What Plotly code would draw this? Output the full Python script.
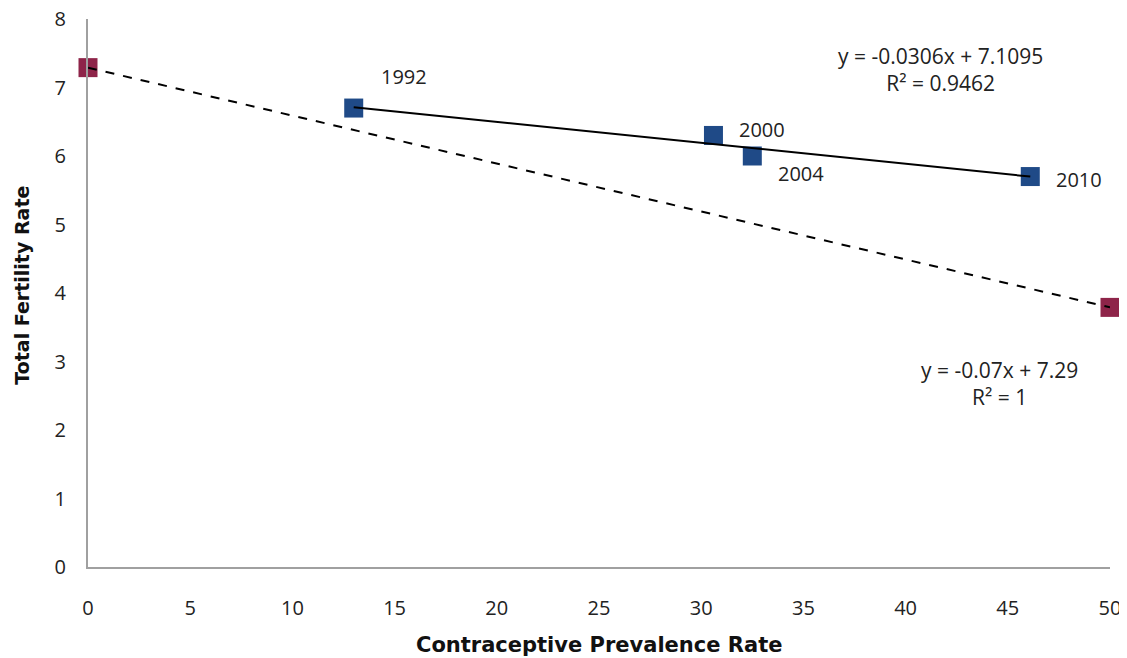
import numpy as np
import plotly.graph_objects as go

# Survey points (blue)
years = ["1992", "2000", "2004", "2010"]
cpr = [13.0, 30.6, 32.5, 46.1]
tfr = [6.70, 6.30, 6.00, 5.70]

# Reference endpoints (red)
ref_x = [0, 50]
ref_y = [7.29, 3.79]

eq_blue = "y = -0.0306x + 7.1095<br>R² = 0.9462"
eq_red = "y = -0.07x + 7.29<br>R² = 1"

label_shift = {"1992": (50, 32), "2000": (49, 6), "2004": (49, -17), "2010": (49, -3)}

BLUE = "#1F4A87"
RED = "#8E2449"
FONT = "Open Sans"
TITLE_FONT = "DejaVu Sans"

fig = go.Figure()

fig.add_trace(go.Scatter(x=cpr, y=tfr, mode="markers",
                         marker=dict(symbol="square", size=19, color=BLUE),
                         cliponaxis=False, showlegend=False))
fig.add_trace(go.Scatter(x=ref_x, y=ref_y, mode="markers",
                         marker=dict(symbol="square", size=19, color=RED),
                         cliponaxis=False, showlegend=False))

# trendlines
m1, b1 = np.polyfit(cpr, tfr, 1)
tx = [min(cpr), max(cpr)]
fig.add_trace(go.Scatter(x=tx, y=[m1 * v + b1 for v in tx], mode="lines",
                         line=dict(color="black", width=2),
                         cliponaxis=False, showlegend=False))
m2, b2 = np.polyfit(ref_x, ref_y, 1)
fig.add_trace(go.Scatter(x=ref_x, y=[m2 * v + b2 for v in ref_x], mode="lines",
                         line=dict(color="black", width=2, dash="dash"),
                         cliponaxis=False, showlegend=False))

for yr, xv, yv in zip(years, cpr, tfr):
    dx, dy = label_shift[yr]
    fig.add_annotation(x=xv, y=yv, text=yr, showarrow=False,
                       xshift=dx, yshift=dy,
                       font=dict(family=FONT, size=20, color="#222"))

fig.add_annotation(x=0.834, y=0.907, xref="paper", yref="paper", text=eq_blue,
                   showarrow=False, align="center", xanchor="center", yanchor="middle",
                   font=dict(family=FONT, size=21, color="#222"))
fig.add_annotation(x=0.892, y=0.334, xref="paper", yref="paper", text=eq_red,
                   showarrow=False, align="center", xanchor="center", yanchor="middle",
                   font=dict(family=FONT, size=21, color="#222"))

# axis titles
fig.add_annotation(x=0.5, y=-0.1423, xref="paper", yref="paper",
                   text="<b>Contraceptive Prevalence Rate</b>", showarrow=False,
                   xanchor="center", yanchor="middle",
                   font=dict(family=TITLE_FONT, size=21, color="#111"))
fig.add_annotation(x=-0.0646, y=0.515, xref="paper", yref="paper",
                   text="<b>Total Fertility Rate</b>", showarrow=False, textangle=-90,
                   xanchor="center", yanchor="middle",
                   font=dict(family=TITLE_FONT, size=19, color="#111"))

# page body has an 8px margin: figure sized/offset to match the window
fig.update_layout(
    width=1119, height=650,
    margin=dict(l=80, r=17, t=11, b=91),
    plot_bgcolor="white", paper_bgcolor="white",
    font=dict(family=FONT, size=20, color="#222"),
    xaxis=dict(range=[0, 50], dtick=5, showgrid=False, zeroline=False,
               showline=True, linecolor="#A0A0A0", linewidth=2,
               ticks="", tickfont=dict(size=20), ticklabelstandoff=22,
               ticklabeloverflow="allow", automargin=False),
    yaxis=dict(range=[0, 8], dtick=1, showgrid=False, zeroline=False,
               showline=True, linecolor="#A0A0A0", linewidth=2,
               ticks="", tickfont=dict(size=20), ticklabelstandoff=16,
               ticklabeloverflow="allow", automargin=False),
)

fig.write_html("out.html")
